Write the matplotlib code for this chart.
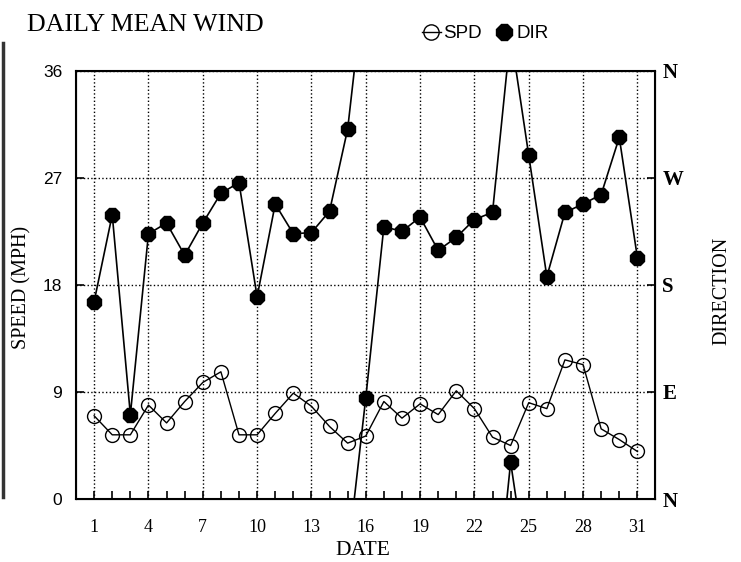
import numpy as np
import matplotlib
matplotlib.use("Agg")
import matplotlib.pyplot as plt
from matplotlib.lines import Line2D

# daily mean wind, days 1..31
days = list(range(1, 32))
speed = [7.0, 5.4, 5.4, 7.9, 6.4, 8.2, 9.8, 10.7, 5.4, 5.4,
         7.2, 8.9, 7.8, 6.1, 4.7, 5.3, 8.2, 6.8, 8.0, 7.1,
         9.1, 7.6, 5.2, 4.5, 8.1, 7.6, 11.7, 11.3, 5.9, 5.0, 4.0]
# direction on the 0..36 scale (0=N, 9=E, 18=S, 27=W, 36=N)
direction = [16.6, 23.9, 7.1, 22.3, 23.2, 20.5, 23.2, 25.7, 26.6, 17.0,
             24.8, 22.3, 22.4, 24.2, 31.1, 8.5, 22.9, 22.5, 23.7, 20.9,
             22.0, 23.5, 24.1, 3.1, 28.9, 18.7, 24.1, 24.8, 25.6, 30.4, 20.3]

x_ticks = [1, 4, 7, 10, 13, 16, 19, 22, 25, 28, 31]
y_ticks = [0, 9, 18, 27, 36]
dir_labels = ["N", "E", "S", "W", "N"]

SERIF = ["Liberation Serif", "DejaVu Serif"]
SANS = ["Liberation Sans", "DejaVu Sans"]

fig = plt.figure(figsize=(7.41, 5.62), dpi=100)
ax = fig.add_axes([0.1026, 0.112, 0.782, 0.762])

# direction line, wrapping round through N by the short way
seg_x, seg_y = [], []
for i in range(len(days) - 1):
    a, b = direction[i], direction[i + 1]
    x0, x1 = days[i], days[i + 1]
    if b - a > 18:
        pairs = [(a, b - 36), (a + 36, b)]
    elif a - b > 18:
        pairs = [(a, b + 36), (a - 36, b)]
    else:
        pairs = [(a, b)]
    for ya, yb in pairs:
        seg_x += [x0, x1, np.nan]
        seg_y += [ya, yb, np.nan]
ax.plot(seg_x, seg_y, color="black", lw=1.2, zorder=3)
ax.plot(days, direction, ls="none", marker="8", ms=11.5, color="black", zorder=4)

# speed
ax.plot(days, speed, color="black", lw=1.0, marker="o", ms=10,
        mfc="none", mec="black", mew=1.0, zorder=5)

ax.set_xlim(0, 32)
ax.set_ylim(0, 36)
ax.set_xticks(x_ticks)
ax.set_xticks(days, minor=True)
ax.set_yticks(y_ticks)
ax.set_xticklabels([str(d) for d in x_ticks], family=SERIF, fontsize=13)
ax.set_yticklabels([str(v) for v in y_ticks], family=SANS, fontsize=12.5)
ax.tick_params(axis="both", which="both", direction="in", length=6, width=1.2)
ax.tick_params(axis="x", which="major", pad=14)
ax.tick_params(axis="y", pad=10)
ax.grid(True, which="major", ls=":", color="black", lw=1.0)
for s in ax.spines.values():
    s.set_linewidth(1.5)

ax2 = ax.twinx()
ax2.set_ylim(0, 36)
ax2.set_yticks(y_ticks)
ax2.set_yticklabels(dir_labels, family=SERIF, fontsize=15, fontweight="bold")
ax2.tick_params(axis="y", direction="in", length=6, width=1.2, pad=5)

fig.text(0.49, 0.021, "DATE", family=SERIF, fontsize=15.5, ha="center", va="center")
fig.text(0.030, 0.489, "SPEED (MPH)", family=SERIF, fontsize=14.5, rotation=90,
         ha="center", va="center")
fig.text(0.974, 0.482, "DIRECTION", family=SERIF, fontsize=14.5, rotation=90,
         ha="center", va="center")

fig.text(0.036, 0.955, "DAILY MEAN WIND", family=SERIF, fontsize=18.7, va="center")

handles = [Line2D([], [], color="black", lw=1.0, marker="o", ms=11, mfc="none"),
           Line2D([], [], ls="none", marker="8", ms=12, color="black")]
fig.legend(handles, ["SPD", "DIR"], loc="center", bbox_to_anchor=(0.655, 0.94),
           ncol=2, frameon=False, handlelength=1.0, handletextpad=0.15,
           columnspacing=0.7, prop={"family": SANS, "size": 13.5})

# dark bar at the far left of the page
fig.add_artist(Line2D([0.004, 0.004], [1 - 43 / 562, 1 - 497 / 562],
                      color="#333333", lw=2.5, transform=fig.transFigure))

fig.savefig("out.png", dpi=100)
